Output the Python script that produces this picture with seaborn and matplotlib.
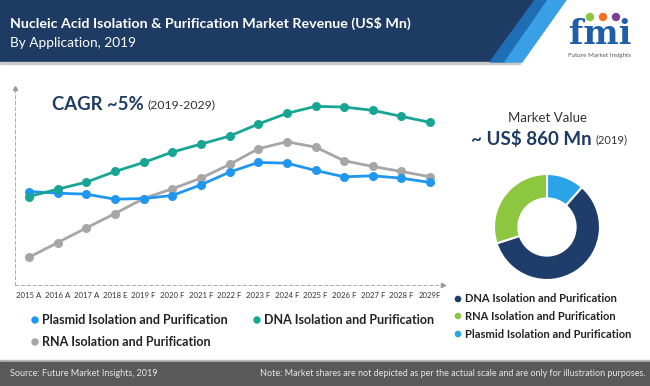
import numpy as np
import pandas as pd
import matplotlib
matplotlib.use("Agg")
import matplotlib.pyplot as plt
import seaborn as sns
from matplotlib.patches import Rectangle, Polygon, Circle

sns.set_theme(style="white")
plt.rcParams["font.family"] = ["Lato", "DejaVu Sans"]

# ── Data ──────────────────────────────────────────────────────────────────────
years = ["2015 A", "2016 A", "2017 A", "2018 E", "2019 F", "2020 F", "2021 F",
         "2022 F", "2023 F", "2024 F", "2025 F", "2026 F", "2027 F", "2028 F", "2029F"]
dna = [265, 287, 308, 340, 367, 398, 422, 446, 482, 514, 535, 533, 523, 505, 487]
plasmid = [280, 275, 272, 257, 259, 268, 300, 338, 367, 365, 343, 324, 327, 320, 307]
rna = [83, 127, 171, 214, 259, 288, 320, 361, 408, 429, 413, 372, 355, 340, 324]

share_labels = ["Plasmid Isolation and Purification", "DNA Isolation and Purification",
                "RNA Isolation and Purification"]
share_values = [11.5, 58.5, 30.0]

NAVY = "#1d3b63"
TEAL = "#19a595"
BLUE = "#2196ee"
GREY = "#a6a6a6"

W, H = 650, 386
fig = plt.figure(figsize=(6.5, 3.86), dpi=100)
fig.patch.set_facecolor("white")

def fx(px): return px / W
def fy(py): return 1 - py / H

# ── Header / footer background ────────────────────────────────────────────────
bg = fig.add_axes([0, 0, 1, 1])
bg.set_xlim(0, W); bg.set_ylim(H, 0); bg.axis("off")
bg.add_patch(Polygon([(0, 0), (560, 0), (518, 62), (0, 62)], color=NAVY, zorder=1))
bg.add_patch(Polygon([(535, 0), (548, 0), (505, 62), (490, 62)], color="#1f6db5", zorder=2))
bg.add_patch(Polygon([(548, 0), (566, 0), (522, 62), (505, 62)], color="#3aa0e6", zorder=2))
bg.add_patch(Rectangle((0, 62), 520, 2, color="#c9c9c9", zorder=1))
bg.add_patch(Rectangle((0, 360), W, 2, color="#b5b5b5", zorder=1))
bg.add_patch(Rectangle((0, 362), W, 24, color="#595959", zorder=1))

fig.text(fx(10), fy(23), "Nucleic Acid Isolation & Purification Market Revenue (US$ Mn)",
         color="white", fontsize=10.3, fontweight="bold", va="center")
fig.text(fx(10), fy(43), "By Application, 2019", color="white", fontsize=9.8, va="center")
fig.text(fx(10), fy(374), "Source: Future Market Insights, 2019", color="#e6e6e6",
         fontsize=6.5, va="center")
fig.text(fx(645), fy(374), "Note: Market shares are not depicted as per the actual scale and are only for illustration purposes.",
         color="#e6e6e6", fontsize=6.5, va="center", ha="right")

# logo
fig.text(fx(600), fy(35), "fmi", color="#1f5fa8", fontsize=24, fontweight="bold",
         ha="center", va="center", family="DejaVu Serif")
for cx, col in [(590, "#8dc63f"), (603, "#f36f21"), (616, "#7b3f98")]:
    bg.add_patch(Circle((cx, 17), 3.5, color=col, zorder=3))
fig.text(fx(600), fy(55), "Future Market Insights", color="#555555", fontsize=4.5,
         ha="center", va="center")

# ── Line chart ────────────────────────────────────────────────────────────────
ax = fig.add_axes([fx(15), fy(285), fx(443) - fx(15), fy(88) - fy(285)])
x = np.arange(len(years))
df = pd.DataFrame({"x": np.tile(x, 3),
                   "value": dna + plasmid + rna,
                   "series": ["DNA"] * 15 + ["Plasmid"] * 15 + ["RNA"] * 15})
palette = {"DNA": TEAL, "Plasmid": BLUE, "RNA": GREY}
for name in ["RNA", "Plasmid", "DNA"]:
    sub = df[df["series"] == name]
    sns.lineplot(data=sub, x="x", y="value", ax=ax, color=palette[name], linewidth=2,
                 marker="o", markersize=6.5, markeredgewidth=0, legend=False)
ax.set_xlim(-0.49, 14.45)
ax.set_ylim(0, 590)
ax.set_xticks(x)
ax.set_xticklabels(years, fontsize=5.6, color="#333333")
ax.set_yticks([])
ax.set_xlabel(""); ax.set_ylabel("")
ax.tick_params(axis="x", length=0, pad=5)
for s in ["top", "right"]:
    ax.spines[s].set_visible(False)
for s in ["left", "bottom"]:
    ax.spines[s].set_linestyle((0, (4, 3)))
    ax.spines[s].set_color("#a0a0a0")
    ax.spines[s].set_linewidth(0.6)
ax.plot(1, 0, ">", color="#9a9a9a", markersize=3, transform=ax.transAxes, clip_on=False)
ax.plot(0, 1, "^", color="#9a9a9a", markersize=3, transform=ax.transAxes, clip_on=False)

fig.text(fx(52), fy(104), "CAGR ~5%", color=NAVY, fontsize=13.3, fontweight="bold", va="center")
fig.text(fx(148), fy(105), "(2019-2029)", color="#333333", fontsize=8.8, va="center")

# line legend
leg_items = [(35, 320, "Plasmid Isolation and Purification", BLUE),
             (257, 320, "DNA Isolation and Purification", TEAL),
             (35, 342, "RNA Isolation and Purification", GREY)]
for px, py, lab, col in leg_items:
    bg.add_patch(Circle((px, py), 3, color=col, zorder=3))
    fig.text(fx(px + 7), fy(py), lab, fontsize=9, fontweight="bold", color="#222222",
             va="center")

# ── Donut ─────────────────────────────────────────────────────────────────────
fig.text(fx(547), fy(118), "Market Value", fontsize=9.5, color="#333333", ha="center",
         va="center")
fig.text(fx(592), fy(139), "~ US$ 860 Mn", fontsize=13.5, fontweight="bold", color=NAVY,
         ha="right", va="center")
fig.text(fx(595), fy(140), "(2019)", fontsize=8, color="#333333", ha="left", va="center")

r = 53
axd = fig.add_axes([fx(547 - r), fy(227 + r), 2 * r / W, 2 * r / H])
axd.pie(share_values, colors=["#2aa3e8", "#1f3d6b", "#8dc63f"], startangle=90,
        counterclock=False, wedgeprops=dict(width=0.46, edgecolor="white", linewidth=1.5))
axd.set_xlim(-1, 1); axd.set_ylim(-1, 1)
axd.set_aspect("equal")

donut_leg = [(299, "DNA Isolation and Purification", "#1f3d6b"),
             (316, "RNA Isolation and Purification", "#8dc63f"),
             (334, "Plasmid Isolation and Purification", "#2aa3e8")]
for py, lab, col in donut_leg:
    bg.add_patch(Circle((458, py), 2.6, color=col, zorder=3))
    fig.text(fx(465), fy(py), lab, fontsize=8, fontweight="bold", color="#222222",
             va="center")

plt.savefig("out.png", dpi=100)
plt.close()
